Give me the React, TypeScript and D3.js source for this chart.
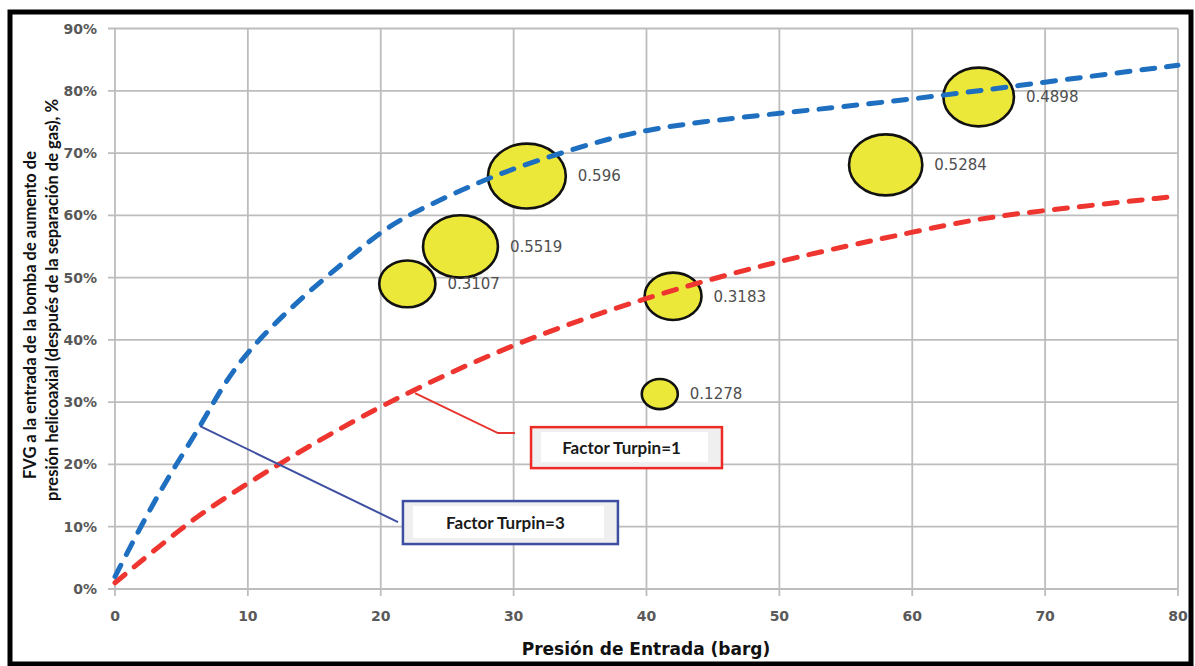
import React from "react";
import * as d3 from "d3";

// ---- data ----
const xTicks = [0, 10, 20, 30, 40, 50, 60, 70, 80];
const yTicks = [0, 10, 20, 30, 40, 50, 60, 70, 80, 90];

// Factor Turpin = 3 (blue dashed)
const blueX = [0, 2, 4, 6.4, 8, 10, 13.7, 17.2, 20, 22.2, 26.5, 30, 36.5, 40, 44, 50, 60, 70, 80];
const blueY = [2, 10.3, 18, 26, 32.3, 38.3, 46.2, 52.4, 57.4, 60.2, 64.5, 67.6, 72, 73.7, 75, 76.4, 78.6, 81.4, 84.1];

// Factor Turpin = 1 (red dashed)
const redX = [0, 5.1, 8, 12.4, 20, 30, 40, 50, 60, 65, 70, 80];
const redY = [1, 10, 14.3, 20.2, 29.6, 39.5, 46.9, 52.8, 57.3, 59.5, 60.8, 63.1];

// bubbles
const bubbleX = [22, 26, 31, 41, 42, 58, 65];
const bubbleY = [49, 55, 66.3, 31.3, 47, 68.1, 79];
const bubbleV = [0.3107, 0.5519, 0.596, 0.1278, 0.3183, 0.5284, 0.4898];

// annotations (data coordinates)
const redLeader: [number, number][] = [[22.58, 31.44], [28.82, 25.03], [30.1, 25.03]];
const redBox = { x0: 31.31, x1: 45.68, y0: 19.41, y1: 25.99, text: "Factor Turpin=1" };
const blueLeader: [number, number][] = [[6.4, 26.15], [21.3, 10.75]];
const blueBox = { x0: 21.67, x1: 37.85, y0: 7.22, y1: 14.12, text: "Factor Turpin=3" };

const W = 1195;
const H = 666;

export default function App() {
  const x = d3.scaleLinear().domain([0, 80]).range([115, 1178]);
  const y = d3.scaleLinear().domain([0, 90]).range([589, 28.5]);
  const rY = d3.scaleSqrt().domain([0, 1]).range([0, 42]);
  const stretch = 1.2;

  const line = d3
    .line<[number, number]>()
    .x((d) => x(d[0]))
    .y((d) => y(d[1]))
    .curve(d3.curveBasis);
  const poly = d3
    .line<[number, number]>()
    .x((d) => x(d[0]))
    .y((d) => y(d[1]));

  const blue = blueX.map((v, i) => [v, blueY[i]] as [number, number]);
  const red = redX.map((v, i) => [v, redY[i]] as [number, number]);

  const gridColor = "#bdbdbd";
  const tickFont = "'DejaVu Sans', Verdana, sans-serif";
  const titleFont = "Lato, 'Open Sans', sans-serif";

  const box = (b: typeof redBox, color: string, key: string) => {
    const bx = x(b.x0);
    const bw = x(b.x1) - x(b.x0);
    const by = y(b.y1);
    const bh = y(b.y0) - y(b.y1);
    return (
      <g key={key}>
        <rect x={bx} y={by} width={bw} height={bh} fill="#efefef" stroke={color} strokeWidth={2.5} />
        <rect x={bx + 10} y={by + 5} width={bw - 24} height={bh - 11} fill="#ffffff" />
        <text
          x={bx + bw / 2 - 5}
          y={by + bh / 2}
          dy="0.36em"
          textAnchor="middle"
          fontFamily={titleFont}
          fontWeight={700}
          fontSize={17}
          fill="#1a1a1a"
        >
          {b.text}
        </text>
      </g>
    );
  };

  return (
    <svg
      width={W}
      height={H}
      style={{ position: "absolute", left: 0, top: 0, background: "#fff" }}
    >
      <rect x={0} y={0} width={W} height={H} fill="#ffffff" />
      {/* outer frame */}
      <rect x={10} y={12} width={1181} height={652} fill="none" stroke="#000" strokeWidth={5} />

      {/* grid */}
      {xTicks.map((t) => (
        <line key={"gx" + t} x1={x(t)} x2={x(t)} y1={y(90)} y2={y(0) + 7} stroke={gridColor} strokeWidth={1.8} />
      ))}
      {yTicks.map((t) => (
        <line key={"gy" + t} x1={x(0) - 7} x2={x(80)} y1={y(t)} y2={y(t)} stroke={gridColor} strokeWidth={1.8} />
      ))}

      {/* tick labels */}
      {yTicks.map((t) => (
        <text
          key={"ty" + t}
          x={97}
          y={y(t)}
          dy="0.36em"
          textAnchor="end"
          fontFamily={tickFont}
          fontWeight={700}
          fontSize={14}
          fill="#595959"
        >
          {t + "%"}
        </text>
      ))}
      {xTicks.map((t) => (
        <text
          key={"tx" + t}
          x={x(t)}
          y={621}
          textAnchor="middle"
          fontFamily={tickFont}
          fontWeight={700}
          fontSize={14}
          fill="#595959"
        >
          {t}
        </text>
      ))}

      {/* axis titles */}
      <text
        x={646}
        y={655}
        textAnchor="middle"
        fontFamily={tickFont}
        fontWeight={700}
        fontSize={17}
        fill="#111"
      >
        Presión de Entrada (barg)
      </text>
      <text
        transform={`translate(36,315) rotate(-90)`}
        textAnchor="middle"
        fontFamily={titleFont}
        fontWeight={700}
        fontSize={16.5}
        fill="#111"
      >
        FVG a la entrada de la bomba de aumento de
      </text>
      <text
        transform={`translate(58,300) rotate(-90)`}
        textAnchor="middle"
        fontFamily={titleFont}
        fontWeight={700}
        fontSize={16.5}
        fill="#111"
      >
        presión helicoaxial (después de la separación de gas), %
      </text>

      {/* bubbles */}
      {bubbleV.map((v, i) => {
        const ry = rY(v);
        const rx = ry * stretch;
        return (
          <ellipse
            key={"b" + i}
            cx={x(bubbleX[i])}
            cy={y(bubbleY[i])}
            rx={rx}
            ry={ry}
            fill="#ECE83A"
            stroke="#111"
            strokeWidth={2.6}
          />
        );
      })}

      {/* curves */}
      <path
        d={line(red) || ""}
        fill="none"
        stroke="#EE3530"
        strokeWidth={5}
        strokeDasharray="13 12"
        strokeLinecap="round"
      />
      <path
        d={line(blue) || ""}
        fill="none"
        stroke="#1E6FC0"
        strokeWidth={5}
        strokeDasharray="13 12"
        strokeLinecap="round"
      />

      {/* bubble labels */}
      {bubbleV.map((v, i) => {
        const rx = rY(v) * stretch;
        return (
          <text
            key={"bl" + i}
            x={x(bubbleX[i]) + rx + 12}
            y={y(bubbleY[i])}
            dy="0.36em"
            fontFamily={tickFont}
            fontSize={15}
            fill="#4f4f4f"
          >
            {String(v)}
          </text>
        );
      })}

      {/* annotations */}
      <path d={poly(redLeader) || ""} fill="none" stroke="#E8342E" strokeWidth={2} />
      <path d={poly(blueLeader) || ""} fill="none" stroke="#3E4FA2" strokeWidth={2} />
      {box(redBox, "#EE2A24", "rb")}
      {box(blueBox, "#3E4FA2", "bb")}
    </svg>
  );
}
